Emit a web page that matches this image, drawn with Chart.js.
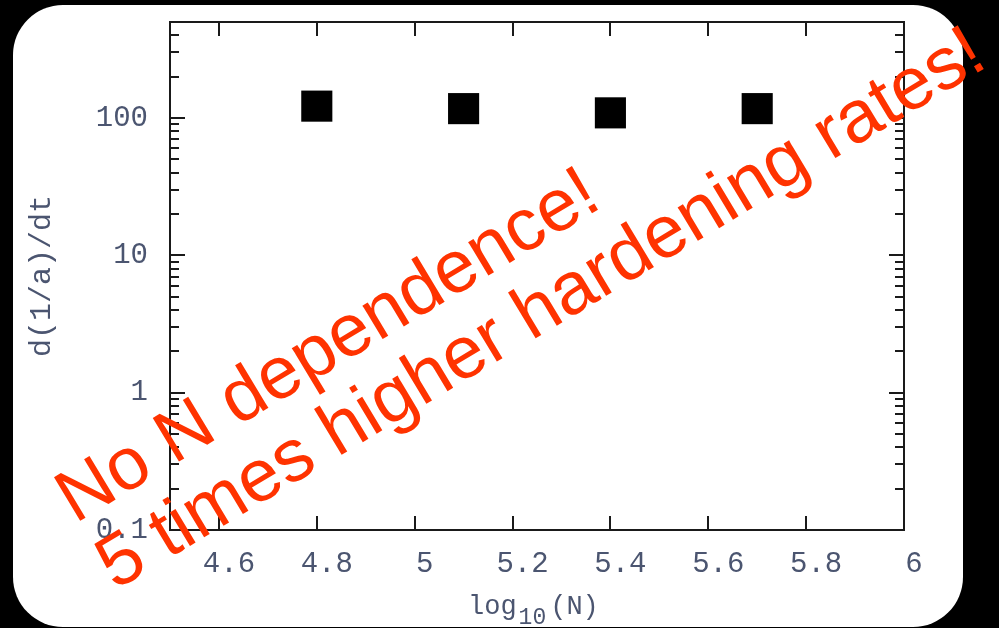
<!DOCTYPE html>
<html lang="en">
<head>
    <meta charset="UTF-8">
    <title>d(1/a)/dt vs log10(N)</title>
    <script src="https://cdn.jsdelivr.net/npm/chart.js"></script>
    <style>
        html, body { margin: 0; padding: 0; background: #000; }
        .chart-box { width: 999px; height: 628px; position: relative; }
    </style>
</head>
<body>
    <div class="chart-box">
        <canvas id="myChart"></canvas>
    </div>
    <script>
        // tick labels
        const xTickValues = [4.6, 4.8, 5, 5.2, 5.4, 5.6, 5.8, 6];
        const yTickValues = [0.1, 1, 10, 100];
        // data
        const logN = [4.8, 5.1, 5.4, 5.7];
        const rate = [122, 117, 109, 117];

        const noteLines = ['No N dependence!', '5 times higher hardening rates!'];

        const labelColor = '#4b5570';
        const frameColor = '#1a1a1a';
        const yMin = 0.1, yMax = 500;

        Chart.defaults.font.family = '"Liberation Mono", monospace';

        // black slide + white rounded card behind the plot
        const backdrop = {
            id: 'backdrop',
            beforeDraw(chart) {
                const ctx = chart.ctx;
                ctx.save();
                ctx.fillStyle = '#000';
                ctx.fillRect(0, 0, chart.width, chart.height);
                ctx.fillStyle = '#fff';
                ctx.beginPath();
                ctx.roundRect(13, 5, 950, 622, 50);
                ctx.fill();
                ctx.restore();
            }
        };

        // box frame with inward ticks on all four sides
        const frameTicks = {
            id: 'frameTicks',
            afterDatasetsDraw(chart) {
                const ctx = chart.ctx;
                const a = chart.chartArea;
                const xs = chart.scales.x, ys = chart.scales.y;
                ctx.save();
                ctx.strokeStyle = frameColor;
                ctx.lineWidth = 2;
                ctx.strokeRect(a.left, a.top, a.right - a.left, a.bottom - a.top);
                ctx.beginPath();
                xTickValues.forEach(v => {
                    const px = Math.round(xs.getPixelForValue(v));
                    ctx.moveTo(px, a.bottom); ctx.lineTo(px, a.bottom - 14);
                    ctx.moveTo(px, a.top); ctx.lineTo(px, a.top + 14);
                });
                yTickValues.forEach(d => {
                    for (let k = 1; k <= 9; k++) {
                        const v = d * k;
                        if (v > yMax) break;
                        const py = Math.round(ys.getPixelForValue(v));
                        const len = k === 1 ? 15 : 9;
                        ctx.moveTo(a.left, py); ctx.lineTo(a.left + len, py);
                        ctx.moveTo(a.right, py); ctx.lineTo(a.right - len, py);
                    }
                });
                ctx.stroke();
                ctx.restore();
            }
        };

        // x axis title with subscript, then the red note on top of everything
        const overlay = {
            id: 'overlay',
            afterDraw(chart) {
                const ctx = chart.ctx;
                ctx.save();
                ctx.fillStyle = labelColor;
                ctx.textBaseline = 'alphabetic';
                let x = 468;
                ctx.font = '27px "Liberation Mono"';
                ctx.fillText('log', x, 614);
                x += ctx.measureText('log').width + 2;
                ctx.font = '23px "Liberation Mono"';
                ctx.fillText('10', x, 624);
                x += ctx.measureText('10').width + 4;
                ctx.font = '27px "Liberation Mono"';
                ctx.fillText('(N)', x, 614);

                ctx.translate(75, 524);
                ctx.rotate(-31 * Math.PI / 180);
                ctx.fillStyle = '#ff3300';
                ctx.font = '74px "Liberation Sans", Arial, sans-serif';
                ctx.textAlign = 'left';
                noteLines.forEach((t, i) => ctx.fillText(t, 0, i * 78));
                ctx.restore();
            }
        };

        new Chart(document.getElementById('myChart'), {
            type: 'scatter',
            data: {
                datasets: [{
                    data: logN.map((v, i) => ({ x: v, y: rate[i] })),
                    backgroundColor: '#000',
                    borderWidth: 0,
                    pointStyle: 'rect',
                    pointRadius: 22,
                    pointHoverRadius: 22
                }]
            },
            options: {
                responsive: true,
                maintainAspectRatio: false,
                animation: false,
                layout: { padding: { top: 19, right: 95, bottom: 0, left: 0 } },
                plugins: { legend: { display: false }, tooltip: { enabled: false } },
                scales: {
                    x: {
                        type: 'linear',
                        min: 4.5,
                        max: 6,
                        afterBuildTicks: s => { s.ticks = xTickValues.map(v => ({ value: v })); },
                        afterFit: s => { s.height = 98; s.paddingLeft = 0; s.paddingRight = 0; },
                        grid: { display: false, drawTicks: false },
                        border: { display: false },
                        ticks: {
                            color: labelColor,
                            font: { size: 29 },
                            padding: 17,
                            labelOffset: 10,
                            maxRotation: 0,
                            autoSkip: false,
                            callback: v => String(Math.round(v * 10) / 10)
                        }
                    },
                    y: {
                        type: 'logarithmic',
                        min: yMin,
                        max: yMax,
                        afterBuildTicks: s => { s.ticks = yTickValues.map(v => ({ value: v })); },
                        afterFit: s => { s.width = 170; s.paddingTop = 0; s.paddingBottom = 0; },
                        grid: { display: false, drawTicks: false },
                        border: { display: false },
                        ticks: {
                            color: labelColor,
                            font: { size: 29 },
                            padding: 22,
                            autoSkip: false,
                            callback: v => String(v)
                        },
                        title: {
                            display: true,
                            text: 'd(1/a)/dt',
                            color: labelColor,
                            font: { size: 30 },
                            padding: { top: 24, bottom: 0 }
                        }
                    }
                }
            },
            plugins: [backdrop, frameTicks, overlay]
        });
    </script>
</body>
</html>
